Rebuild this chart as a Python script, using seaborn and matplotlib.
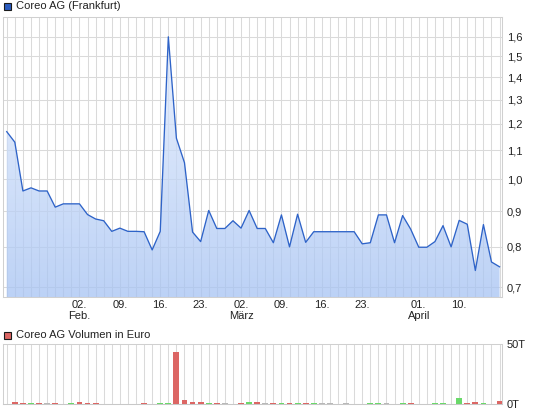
import numpy as np
import pandas as pd
import matplotlib
matplotlib.use("Agg")
import matplotlib.pyplot as plt
from matplotlib.patches import Rectangle
from matplotlib.ticker import NullLocator, FixedLocator, FixedFormatter
import seaborn as sns

plt.rcParams['font.family'] = ['Liberation Sans', 'DejaVu Sans']

# ---------------- data ----------------
dates = pd.bdate_range("2026-01-20", "2026-04-17")
dates = dates.drop(pd.to_datetime(["2026-04-03", "2026-04-06"]))

price = [1.17, 1.13, 0.962, 0.972, 0.962, 0.962, 0.912, 0.922, 0.922, 0.922,
         0.890, 0.877, 0.872, 0.842, 0.851, 0.842, 0.842, 0.841, 0.792, 0.842,
         1.600, 1.145, 1.056, 0.840, 0.814, 0.902, 0.850, 0.850, 0.872, 0.851,
         0.902, 0.850, 0.850, 0.811, 0.889, 0.800, 0.891, 0.812, 0.841, 0.841,
         0.841, 0.841, 0.841, 0.841, 0.808, 0.811, 0.889, 0.889, 0.811, 0.887,
         0.848, 0.799, 0.799, 0.814, 0.858, 0.800, 0.873, 0.862, 0.740, 0.861,
         0.761, 0.749]

volume_t = [0, 1.4, 0.6, 0.6, 0.6, 0.6, 0.6, 0, 0.6, 1.4,
            0.6, 0.6, 0, 0, 0, 0, 0, 0.6, 0, 0.6,
            0.6, 43.5, 3.1, 1.4, 1.4, 0.6, 0.6, 0.6, 0, 0.6,
            1.4, 1.4, 0.6, 0.6, 0.6, 0.6, 0.6, 0.6, 0.6, 0.6,
            0.6, 0, 0.6, 0, 0, 0.6, 0.6, 0.6, 0, 0.6,
            0.6, 0, 0, 0.6, 0.6, 0, 5.0, 0.6, 1.4, 0.6,
            0, 2.2]

volume_dir = ["none", "down", "down", "up", "down", "flat", "down", "none", "up", "down",
              "down", "down", "none", "none", "none", "none", "none", "down", "none", "up",
              "up", "down", "down", "down", "down", "up", "down", "flat", "none", "down",
              "up", "down", "flat", "down", "up", "down", "up", "down", "up", "flat",
              "flat", "none", "flat", "none", "none", "up", "up", "flat", "none", "up",
              "down", "none", "none", "up", "up", "none", "up", "down", "down", "up",
              "none", "down"]

tick_dates = ["2026-02-02", "2026-02-09", "2026-02-16", "2026-02-23", "2026-03-02",
              "2026-03-09", "2026-03-16", "2026-03-23", "2026-04-01", "2026-04-10"]
tick_labels = ["02.\nFeb.", "09.", "16.", "23.", "02.\nMärz", "09.", "16.", "23.",
               "01.\nApril", "10."]

price_ticks = [0.7, 0.8, 0.9, 1.0, 1.1, 1.2, 1.3, 1.4, 1.5, 1.6]
price_tick_labels = ["0,7", "0,8", "0,9", "1,0", "1,1", "1,2", "1,3", "1,4", "1,5", "1,6"]
vol_ticks = [0, 50]
vol_tick_labels = ["0T", "50T"]

# ---------------- figure ----------------
W, H = 545, 413
fig = plt.figure(figsize=(W / 100, H / 100), dpi=100)
fig.patch.set_facecolor("white")

L, R = 2.7, 502.0
ax = fig.add_axes([L / W, (H - 297) / H, (R - L) / W, (297 - 17) / H])
ax2 = fig.add_axes([L / W, (H - 404) / H, (R - L) / W, (404 - 344) / H])

n = len(price)
idx = np.arange(n)
df = pd.DataFrame({"i": idx, "date": dates, "price": price,
                   "vol": volume_t, "dir": volume_dir})

grid_c = "#dadada"
spine_c = "#d0d0d0"
line_c = "#2e63c8"
txt_c = "#222222"
fs = 8

# ----- price panel -----
ax.set_yscale("log")
ymin, ymax = 0.678, 1.708
ax.set_autoscale_on(False)
ax.set_xlim(-0.5, n - 0.7)
ax.set_ylim(ymin, ymax)

poly = ax.fill_between(df["i"], df["price"], ymin * 0.9, facecolor="none",
                       edgecolor="none", zorder=1)
top_rgb = np.array([232, 240, 254]) / 255
bot_rgb = np.array([166, 195, 243]) / 255
t = np.linspace(0, 1, 256)[:, None]
grad = np.zeros((256, 1, 4))
grad[:, 0, :3] = top_rgb * (1 - t) + bot_rgb * t
grad[:, 0, 3] = 0.75
im = ax.imshow(grad, extent=(0, 1, 0, 1), transform=ax.transAxes,
               aspect="auto", zorder=2, interpolation="bilinear")
im.set_clip_path(poly.get_paths()[0], transform=ax.transData)
ax.set_xlim(-0.5, n - 0.7)
ax.set_ylim(ymin, ymax)

sns.lineplot(data=df, x="i", y="price", ax=ax, color=line_c, lw=0.95,
             zorder=3, legend=False)
ax.set_xlim(-0.5, n - 0.7)
ax.set_ylim(ymin, ymax)

tick_pos = [dates.get_loc(pd.Timestamp(d)) for d in tick_dates]
ax.xaxis.set_major_locator(FixedLocator(tick_pos))
ax.xaxis.set_major_formatter(FixedFormatter(tick_labels))
ax.xaxis.set_minor_locator(FixedLocator(list(idx)))
ax.yaxis.set_major_locator(FixedLocator(price_ticks))
ax.yaxis.set_major_formatter(FixedFormatter(price_tick_labels))
ax.yaxis.set_minor_locator(NullLocator())
ax.yaxis.tick_right()
ax.tick_params(axis="both", which="both", length=0, labelsize=fs, colors=txt_c)
ax.tick_params(axis="x", pad=2.5)
ax.tick_params(axis="y", pad=3.5)
for lab in ax.get_xticklabels():
    lab.set_linespacing(1.1)
    lab.set_multialignment("center")
ax.grid(True, axis="x", which="both", color=grid_c, lw=0.75, zorder=0)
ax.grid(True, axis="y", which="major", color=grid_c, lw=0.75, zorder=0)
ax.set_axisbelow(True)
ax.set_xlabel("")
ax.set_ylabel("")
for s in ax.spines.values():
    s.set_color(spine_c)
    s.set_linewidth(0.75)

# ----- volume panel -----
palette = {"down": "#dc6664", "up": "#6ad96a", "flat": "#b8b8b8", "none": "#ffffff"}
sns.barplot(data=df, x="i", y="vol", hue="dir", palette=palette,
            hue_order=["down", "up", "flat", "none"], dodge=False, width=0.72,
            legend=False, ax=ax2, zorder=3, saturation=1)
ax2.set_xlim(-0.5, n - 0.7)
ax2.set_ylim(0, 50)
ax2.xaxis.set_major_locator(FixedLocator(list(idx)))
ax2.set_xticklabels([])
ax2.yaxis.set_major_locator(FixedLocator(vol_ticks))
ax2.yaxis.set_major_formatter(FixedFormatter(vol_tick_labels))
ax2.yaxis.tick_right()
ax2.tick_params(axis="both", length=0, labelsize=fs, colors=txt_c)
ax2.tick_params(axis="y", pad=3.5)
ax2.grid(True, axis="x", color=grid_c, lw=0.75, zorder=0)
ax2.set_axisbelow(True)
ax2.set_xlabel("")
ax2.set_ylabel("")
for s in ax2.spines.values():
    s.set_color(spine_c)
    s.set_linewidth(0.75)
ax2.spines["bottom"].set_color("#c8c8c8")

# ----- legends (top-left labels) -----
def legend_box(x0, y_center, color, label):
    size = 7
    fig.patches.append(Rectangle((x0 / W, 1 - (y_center + size / 2) / H), size / W, size / H,
                                 transform=fig.transFigure, facecolor=color,
                                 edgecolor="#1a1a1a", lw=0.8))
    fig.text((x0 + 12) / W, 1 - y_center / H, label, fontsize=fs, color=txt_c,
             va="center", ha="left")

legend_box(3.5, 6.0, "#2a5bbf", "Coreo AG (Frankfurt)")
legend_box(3.5, 335.0, "#dc6664", "Coreo AG Volumen in Euro")

fig.savefig("out.png", dpi=100, facecolor="white")
